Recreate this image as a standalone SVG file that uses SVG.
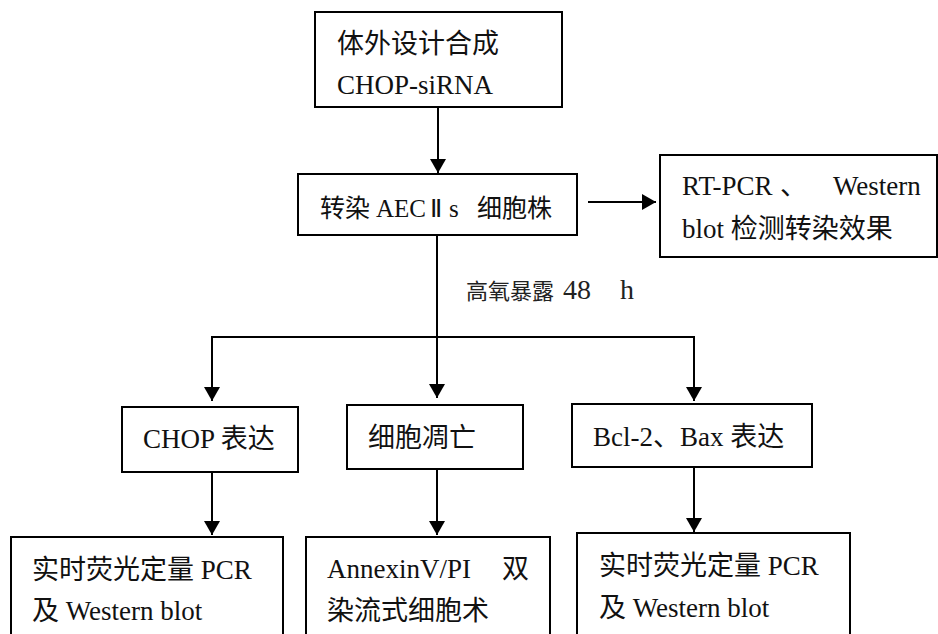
<svg xmlns="http://www.w3.org/2000/svg" width="938" height="634" viewBox="0 0 938 634">
  <defs>
    <marker id="arrow" markerWidth="14" markerHeight="16" refX="14" refY="8" orient="auto" markerUnits="userSpaceOnUse">
      <path d="M0,0 L14,8 L0,16 Z" fill="#000"/>
    </marker>
  </defs>
  <style>
    .box { fill: #fff; stroke: #000; stroke-width: 2; }
    .line { fill: none; stroke: #000; stroke-width: 2; }
    .t { font-family: "Liberation Serif", "Noto Sans CJK SC", serif; font-size: 27px; fill: #111; }
    .c { font-family: "Noto Sans CJK SC", sans-serif; }
    .l { font-family: "Liberation Serif", serif; }
    .lbl { font-family: "Noto Sans CJK SC", sans-serif; font-size: 22px; fill: #222; }
  </style>
  <rect width="938" height="634" fill="#fff"/>

  <g id="connectors">
    <line class="line" x1="438" y1="107" x2="438" y2="173" marker-end="url(#arrow)"/>
    <line class="line" x1="588" y1="202" x2="656" y2="202" marker-end="url(#arrow)"/>
    <line class="line" x1="437" y1="235" x2="437" y2="337"/>
    <polyline class="line" points="212,400 212,337 694,337 694,400"/>
    <line class="line" x1="212" y1="337" x2="212" y2="401" marker-end="url(#arrow)"/>
    <line class="line" x1="437" y1="337" x2="437" y2="398" marker-end="url(#arrow)"/>
    <line class="line" x1="694" y1="337" x2="694" y2="401" marker-end="url(#arrow)"/>
    <line class="line" x1="212" y1="472" x2="212" y2="535" marker-end="url(#arrow)"/>
    <line class="line" x1="437" y1="469" x2="437" y2="535" marker-end="url(#arrow)"/>
    <line class="line" x1="694" y1="467" x2="694" y2="532" marker-end="url(#arrow)"/>
    <text class="lbl" x="466" y="299">高氧暴露<tspan class="l" x="563" style="font-size:28px">48</tspan><tspan class="l" x="620" style="font-size:28px">h</tspan></text>
  </g>

  <g id="synthesis">
    <rect class="box" x="315" y="12" width="247" height="95"/>
    <text class="t c" x="337" y="53">体外设计合成</text>
    <text class="t l" x="337" y="94">CHOP-siRNA</text>
  </g>

  <g id="transfection">
    <rect class="box" x="298" y="174" width="279" height="61"/>
    <text class="t" x="320" y="217" style="font-size:25px"><tspan class="c">转染</tspan><tspan class="l" x="376">AEC</tspan><tspan class="l" x="430">Ⅱ</tspan><tspan class="l" x="449">s</tspan><tspan class="c" x="477">细胞株</tspan></text>
  </g>

  <g id="validation">
    <rect class="box" x="660" y="155" width="277" height="102"/>
    <text class="t" x="682" y="195"><tspan class="l">RT-PCR</tspan><tspan class="c" x="780">、</tspan><tspan class="l" x="833">Western</tspan></text>
    <text class="t" x="682" y="238"><tspan class="l">blot </tspan><tspan class="c">检测转染效果</tspan></text>
  </g>

  <g id="chop-expression">
    <rect class="box" x="122" y="407" width="176" height="65"/>
    <text class="t" x="143" y="448"><tspan class="l">CHOP </tspan><tspan class="c">表达</tspan></text>
  </g>

  <g id="apoptosis">
    <rect class="box" x="347" y="405" width="176" height="64"/>
    <text class="t c" x="368" y="447">细胞凋亡</text>
  </g>

  <g id="bcl-bax-expression">
    <rect class="box" x="572" y="404" width="240" height="63"/>
    <text class="t" x="593" y="446"><tspan class="l">Bcl-2</tspan><tspan class="c">、</tspan><tspan class="l">Bax </tspan><tspan class="c">表达</tspan></text>
  </g>

  <g id="qpcr-left">
    <rect class="box" x="11" y="537" width="272" height="110"/>
    <text class="t" x="32" y="579"><tspan class="c">实时荧光定量</tspan><tspan class="l"> PCR</tspan></text>
    <text class="t" x="32" y="620"><tspan class="c">及</tspan><tspan class="l"> Western blot</tspan></text>
  </g>

  <g id="flow-cytometry">
    <rect class="box" x="306" y="537" width="244" height="110"/>
    <text class="t" x="327" y="578"><tspan class="l">AnnexinV/PI</tspan><tspan class="c" x="502">双</tspan></text>
    <text class="t c" x="327" y="620">染流式细胞术</text>
  </g>

  <g id="qpcr-right">
    <rect class="box" x="577" y="533" width="273" height="114"/>
    <text class="t" x="599" y="575"><tspan class="c">实时荧光定量</tspan><tspan class="l"> PCR</tspan></text>
    <text class="t" x="599" y="617"><tspan class="c">及</tspan><tspan class="l"> Western blot</tspan></text>
  </g>
</svg>
